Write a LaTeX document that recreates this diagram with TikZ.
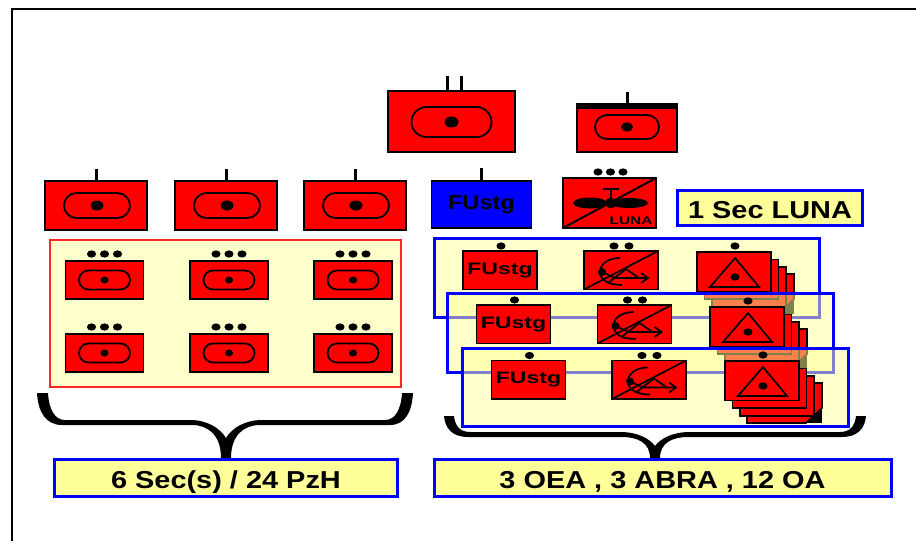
\documentclass[tikz,border=0pt]{standalone}
\usepackage{fontspec}
\setmainfont{Liberation Sans}[FakeStretch=1.18]
\newfontfamily\fuwide{Liberation Sans}[FakeStretch=1.4]
\usetikzlibrary{shapes.misc,calc}
\definecolor{panelyellow}{HTML}{FFFF99}
\definecolor{paleyellow}{HTML}{FFFFCC}
\definecolor{bluefill}{HTML}{0000FF}
\tikzset{
 unitbox/.style={rectangle,draw=black,fill=red,line width=1.8pt,inner sep=0pt,outer sep=0pt,font=\bfseries},
 ovalmark/.style={rounded rectangle,draw=black,line width=1.8pt,inner sep=0pt,outer sep=0pt},
 dotmark/.style={fill=black,draw=none},
 tickmark/.style={draw=black,line width=3pt},
 symline/.style={draw=black,line width=1.7pt},
 labelbox/.style={rectangle,draw=bluefill,fill=panelyellow,line width=3pt,inner sep=0pt,outer sep=0pt,text height=21pt,text depth=0pt,font=\bfseries\fontsize{24.5}{25}\selectfont},
 forcepanel/.style={rectangle,draw=bluefill,fill=panelyellow,fill opacity=.5,line width=3pt,inner sep=0pt,outer sep=0pt},
 bracefill/.style={fill=black,draw=none}
}
% name,x1,y1,x2,y2,text
\newcommand{\ubox}[6]{\node[unitbox,minimum width={((#4)-(#2))*1pt},minimum height={((#5)-(#3))*1pt}] (#1) at ({((#2)+(#4))/2},{((#3)+(#5))/2}) {#6};}
% oval name,cx,cy,w,h,dot rx,dot ry
\newcommand{\ovmark}[7]{\node[ovalmark,minimum width={(#4)*1pt},minimum height={(#5)*1pt}] (#1) at (#2,#3) {};
 \fill[dotmark] (#2,#3) ellipse[x radius=#6,y radius=#7];}
\newcommand{\edot}[2]{\fill[dotmark] (#1,#2) ellipse[x radius=4.6,y radius=3.6];}
% infantry: name,x1,y1 (small, 78x38)
\newcommand{\smallinf}[3]{\ubox{#1}{#2}{#3}{#2+78}{#3+38}{}
 \ovmark{#1o}{#2+39}{#3+19}{51}{19}{4}{3.5}
 \edot{#2+26}{#3-7}\edot{#2+39}{#3-7}\edot{#2+52}{#3-7}}
\newcommand{\coy}[2]{\ubox{#1}{#2}{181}{#2+102}{230}{}
 \draw[tickmark] (#1.north)++(0,-12) -- (#1.north);
 \ovmark{#1o}{#2+52}{205.5}{66}{25}{6.5}{5}}
\newcommand{\fustg}[3]{\ubox{#1}{#2}{#3}{#2+74}{#3+38.5}{\fuwide\bfseries\fontsize{16.5}{17}\selectfont FUstg}
 \edot{#2+38}{#3-5}}
\newcommand{\arty}[3]{\ubox{#1}{#2}{#3}{#2+74}{#3+38.5}{}
 \draw[symline] (#1.south west) -- (#1.north east);
 \draw[symline] (#2+36,#3+7) .. controls (#2+24,#3+7) and (#2+16,#3+13) .. (#2+16,#3+21) .. controls (#2+16,#3+30) and (#2+26,#3+34) .. (#2+38,#3+34);
 \fill[dotmark] (#2+18,#3+21) circle[radius=4];
 \draw[symline] (#2+18,#3+21) -- (#2+31,#3+27) -- (#2+64,#3+27);
 \draw[symline] (#2+57,#3+22) -- (#2+64,#3+27) -- (#2+57,#3+32);
 \draw[symline] (#2+24,#3+32) -- (#2+42,#3+18) -- (#2+55,#3+27);
 \edot{#2+30}{#3-5}\edot{#2+45}{#3-5}}
% stacked observation units
\newcommand{\obsstack}[3]{
 \fill[black] (#2+22,#3+22) rectangle (#2+97,#3+62);
 \filldraw[fill=red,draw=black,line width=1.6pt] (#2+22,#3+22) -- (#2+97,#3+22) -- (#2+97,#3+47) -- (#2+81,#3+62) -- (#2+22,#3+62) -- cycle;
 \ubox{#1c}{#2+15}{#3+15}{#2+89}{#3+55}{}
 \ubox{#1b}{#2+7.5}{#3+7.5}{#2+81.5}{#3+47}{}
 \ubox{#1}{#2}{#3}{#2+74}{#3+39.5}{}
 \draw[symline,line join=miter] (#2+38,#3+6) -- (#2+13,#3+35) -- (#2+62,#3+35) -- cycle;
 \fill[dotmark] (#2+38,#3+25) ellipse[x radius=4.6,y radius=3.6];
 \edot{#2+38}{#3-6}}
\begin{document}
\begin{tikzpicture}[x=1pt,y=-1pt]
\useasboundingbox (0,0) rectangle (916,541);
\fill[white] (0,0) rectangle (916,541);
% frame
\draw[black,line width=2pt] (11.5,541) -- (11.5,8.5) -- (916,8.5);
% top units
\ubox{bn}{388}{91}{515}{152}{}
\draw[tickmark] (447,76) -- (447,91);
\draw[tickmark] (461,76) -- (461,91);
\ovmark{bno}{451.5}{122}{80}{30}{7}{5.5}
\ubox{hq}{577}{104}{677}{152}{}
\fill[black] (576,103) rectangle (678,108.5);
\draw[tickmark] (627,92) -- (627,103);
\ovmark{hqo}{627}{127}{64}{24}{6}{4.5}
% second row
\coy{cA}{45}\coy{cB}{175}\coy{cC}{304}
\node[unitbox,fill=bluefill,minimum width=100pt,minimum height=47pt,font=\bfseries\fontsize{20}{21}\selectfont] (fu) at (481.5,204.5) {FUstg};
\draw[tickmark] (fu.north)++(0,-13) -- (fu.north);
\ubox{luna}{563}{178}{656}{228}{}
\draw[symline,line width=2pt] (luna.south west) -- (luna.north east);
\fill[dotmark] (590,203) ellipse[x radius=17,y radius=5.5];
\fill[dotmark] (629,203) ellipse[x radius=19,y radius=5];
\fill[dotmark] (611,203) ellipse[x radius=6,y radius=5];
\draw[tickmark,line width=2pt] (603,189) -- (619,189) (611,189) -- (611,200);
\node[inner sep=0pt,font=\fuwide\bfseries\fontsize{11}{11}\selectfont] (lunatext) at (631,221) {LUNA};
\edot{598}{172}\edot{610.5}{172}\edot{623}{172}
\node[labelbox,minimum width=185pt,minimum height=35pt] (seclabel) at (770,208) {1 Sec LUNA};
% left panel
\node[rectangle,draw=red!85!white,fill=paleyellow,line width=2pt,minimum width=351pt,minimum height=147pt,inner sep=0pt,outer sep=0pt] (lpanel) at (225.5,313.5) {};
\smallinf{iA}{65.5}{261}\smallinf{iB}{190}{261}\smallinf{iC}{314}{261}
\smallinf{iD}{65.5}{334}\smallinf{iE}{190}{334}\smallinf{iF}{314}{334}
% braces
\fill[bracefill] (37,393) .. controls (38,412) and (46,425) .. (62,425) -- (192,425) .. controls (208,425) and (221,435) .. (221,458) -- (231,458) .. controls (231,435) and (244,425) .. (260,425) -- (390,425) .. controls (405,425) and (412,412) .. (413,393) -- (402,393) .. controls (401,410) and (395,420) .. (385,420) -- (262,420) .. controls (245,420) and (232,428) .. (226,438) .. controls (220,428) and (207,420) .. (190,420) -- (65,420) .. controls (55,420) and (49,410) .. (48,393) -- cycle;
\fill[bracefill] (444,416) .. controls (445,428) and (452,437) .. (468,437) -- (622,437) .. controls (638,437) and (650,443) .. (650,458) -- (660,458) .. controls (660,443) and (672,437) .. (688,437) -- (842,437) .. controls (858,437) and (865,428) .. (866,416) -- (856,416) .. controls (855,426) and (850,432) .. (840,432) -- (690,432) .. controls (673,432) and (661,438) .. (655,446) .. controls (649,438) and (637,432) .. (620,432) -- (470,432) .. controls (460,432) and (455,426) .. (454,416) -- cycle;
% right panels
\node[forcepanel,minimum width=385pt,minimum height=79pt] (p1) at (626.5,277.5) {};
\fustg{fa}{463}{251}\arty{aa}{584}{251}\obsstack{oa}{697}{252}
\node[forcepanel,minimum width=386pt,minimum height=79pt] (p2) at (640,332.5) {};
\fustg{fb}{476.5}{305}\arty{ab}{597.5}{305}\obsstack{ob}{710}{307}
\node[forcepanel,minimum width=386pt,minimum height=78pt] (p3) at (655,387) {};
\fustg{fc}{491.5}{360.5}\arty{ac}{612}{360.5}\obsstack{oc}{725}{361}
% bottom labels
\node[labelbox,minimum width=343pt,minimum height=37pt] (ll) at (226,477.5) {6 Sec(s) / 24 PzH};
\node[labelbox,minimum width=457pt,minimum height=37pt] (lr) at (662.5,477.5) {3 OEA , 3 ABRA , 12 OA};
\end{tikzpicture}
\end{document}
